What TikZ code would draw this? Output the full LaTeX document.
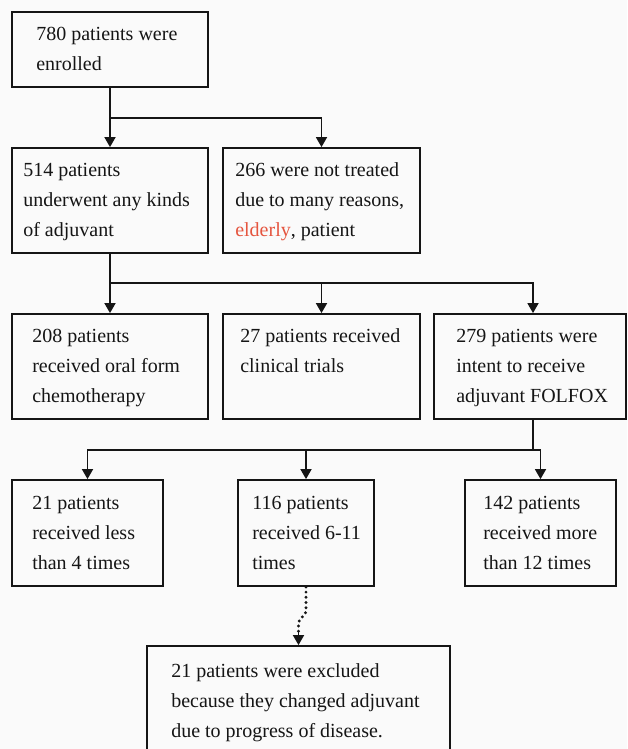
\documentclass[tikz,border=0pt]{standalone}
\usepackage{fontspec}
\setmainfont{Liberation Serif}
\usetikzlibrary{arrows.meta}
\definecolor{ink}{HTML}{151515}
\definecolor{redtxt}{HTML}{E5553F}
\definecolor{bg}{HTML}{FAFAFA}
\begin{document}
\begin{tikzpicture}[x=1pt,y=-1pt,
  box/.style={draw=ink, line width=1.8pt, inner sep=0pt},
  txt/.style={anchor=west, align=left, inner sep=0pt, text=ink, font=\fontsize{20}{30}\selectfont},
  arr/.style={draw=ink, line width=1.7pt, -{Triangle[width=11pt,length=10pt]}},
  ln/.style={draw=ink, line width=1.7pt},
  dotln/.style={draw=ink, line width=3.2pt, line cap=round, dash pattern=on 0pt off 5.2pt}]
\clip (0,0) rectangle (627,749);
\fill[bg] (0,0) rectangle (627,749);
% boxes
\node[box, minimum width=196pt, minimum height=75pt]  (A) at (110,49.5) {};
\node[box, minimum width=196pt, minimum height=105pt] (B) at (110,200.5) {};
\node[box, minimum width=197pt, minimum height=105pt] (C) at (321.5,200.5) {};
\node[box, minimum width=196pt, minimum height=105pt] (D) at (110,366.5) {};
\node[box, minimum width=197pt, minimum height=105pt] (E) at (321.5,366.5) {};
\node[box, minimum width=192pt, minimum height=105pt] (F) at (530,366.5) {};
\node[box, minimum width=151pt, minimum height=106pt] (G) at (87.5,533) {};
\node[box, minimum width=136pt, minimum height=106pt] (H) at (306,533) {};
\node[box, minimum width=151pt, minimum height=106pt] (I) at (540.5,533) {};
\node[box, minimum width=303pt, minimum height=110pt] (J) at (298.5,701) {};
% texts
\node[txt] (tA) at ([xshift=25pt]A.west) {\strut 780 patients were\\\strut enrolled};
\node[txt] (tB) at ([xshift=12pt]B.west) {\strut 514 patients\\\strut underwent any kinds\\\strut of adjuvant};
\node[txt] (tC) at ([xshift=13pt]C.west) {\strut 266 were not treated\\\strut due to many reasons,\\\strut \textcolor{redtxt}{elderly}, patient};
\node[txt] (tD) at ([xshift=21pt]D.west) {\strut 208 patients\\\strut received oral form\\\strut chemotherapy};
\node[txt] (tE) at ([xshift=18pt]E.west) {\strut 27 patients received\\\strut clinical trials\\\strut};
\node[txt] (tF) at ([xshift=23pt]F.west) {\strut 279 patients were\\\strut intent to receive\\\strut adjuvant FOLFOX};
\node[txt] (tG) at ([xshift=21pt]G.west) {\strut 21 patients\\\strut received less\\\strut than 4 times};
\node[txt] (tH) at ([xshift=15pt]H.west) {\strut 116 patients\\\strut received 6-11\\\strut times};
\node[txt] (tI) at ([xshift=19pt]I.west) {\strut 142 patients\\\strut received more\\\strut than 12 times};
\node[txt] (tJ) at ([xshift=25pt]J.west) {\strut 21 patients were excluded\\\strut because they changed adjuvant\\\strut due to progress of disease.};
% connectors
\coordinate (j1) at (110,118);
\draw[arr] (A) -- (B);
\draw[arr] (j1) -| (C.north);
\coordinate (j2) at (110,283);
\draw[arr] (B) -- (D);
\draw[arr] (j2) -| (E.north);
\draw[arr] (j2) -| ([xshift=3pt]F.north);
\coordinate (j3) at (533,450);
\draw[ln] ([xshift=3pt]F.south) -- (j3);
\draw[arr] (j3) -| (G.north);
\draw[arr] (j3) -| (I.north);
\draw[arr] (H.north |- j3) -- (H.north);
\coordinate (d1) at (306,612);
\coordinate (d2) at (298.5,622);
\draw[dotln] (H.south) -- (d1) -- (d2) -- ([yshift=11pt]J.north);
\draw[arr] ([yshift=13pt]J.north) -- (J.north);
\end{tikzpicture}
\end{document}
